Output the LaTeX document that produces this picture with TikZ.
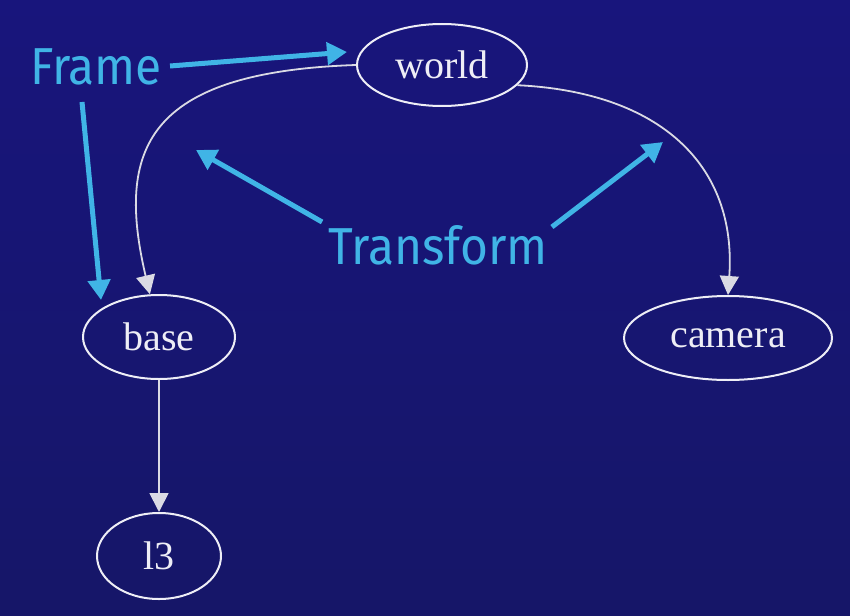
\documentclass[tikz,border=0pt]{standalone}
\usepackage{fontspec}
\usepackage{tikz}
\usetikzlibrary{shapes.geometric,arrows.meta}

\newfontfamily\nodefont{Liberation Serif}
\newfontfamily\notefont[FakeStretch=0.92]{Fira Sans}

\definecolor{bgtop}{RGB}{24,21,124}
\definecolor{bgbot}{RGB}{22,22,104}
\definecolor{edgegrey}{RGB}{218,218,228}
\definecolor{rimwhite}{RGB}{238,238,246}
\definecolor{noteblue}{RGB}{64,180,230}

\tikzset{
  frame node/.style={ellipse, draw=rimwhite, line width=2pt, inner sep=0pt,
    text=rimwhite, font=\nodefont\fontsize{40}{44}\selectfont},
  tf edge/.style={draw=edgegrey, line width=1.8pt,
    -{Triangle[width=19pt,length=19pt,fill=edgegrey]}},
  note/.style={text=noteblue, font=\notefont\fontsize{52}{56}\selectfont, inner sep=0pt},
  note arrow/.style={draw=noteblue, line width=5pt,
    -{Triangle[width=22pt,length=20pt,fill=noteblue]}}
}

\begin{document}
\begin{tikzpicture}[x=1pt,y=-1pt]
	% background
	\shade[top color=bgtop, bottom color=bgbot] (0,0) rectangle (850,615);
	\useasboundingbox (0,0) rectangle (850,615);

	% frames
	\node[frame node, minimum width=170pt, minimum height=82pt] (world) at (442,65) {world};
	\node[frame node, minimum width=152pt, minimum height=84pt] (base) at (159,337) {base};
	\node[frame node, minimum width=208pt, minimum height=84pt] (camera) at (728,338) {camera};
	\node[frame node, minimum width=124pt, minimum height=86pt] (l3) at (159,556) {l3};

	% transforms
	\draw[tf edge] (world.west) .. controls (145,72) and (116,150) .. (base.102);
	\draw[tf edge] (world.345) .. controls (660,92) and (737,165) .. (camera.north);
	\draw[tf edge] (base.south) -- (l3.north);

	% notes
	\node[note] (frame) at (96,67) {Frame};
	\node[note] (transform) at (438,245) {Transform};
	\coordinate (frametipa) at (347,52);
	\coordinate (frametipb) at (101,300);
	\coordinate (tftipa) at (196,150);
	\coordinate (tftipb) at (663,142);

	\draw[note arrow] (frame.east) ++(8,-1) -- (frametipa);
	\draw[note arrow] (82,102) -- (frametipb);
	\draw[note arrow] (transform.north west) ++(-6,-3) -- (tftipa);
	\draw[note arrow] (transform.north east) ++(4,2) -- (tftipb);
\end{tikzpicture}
\end{document}
